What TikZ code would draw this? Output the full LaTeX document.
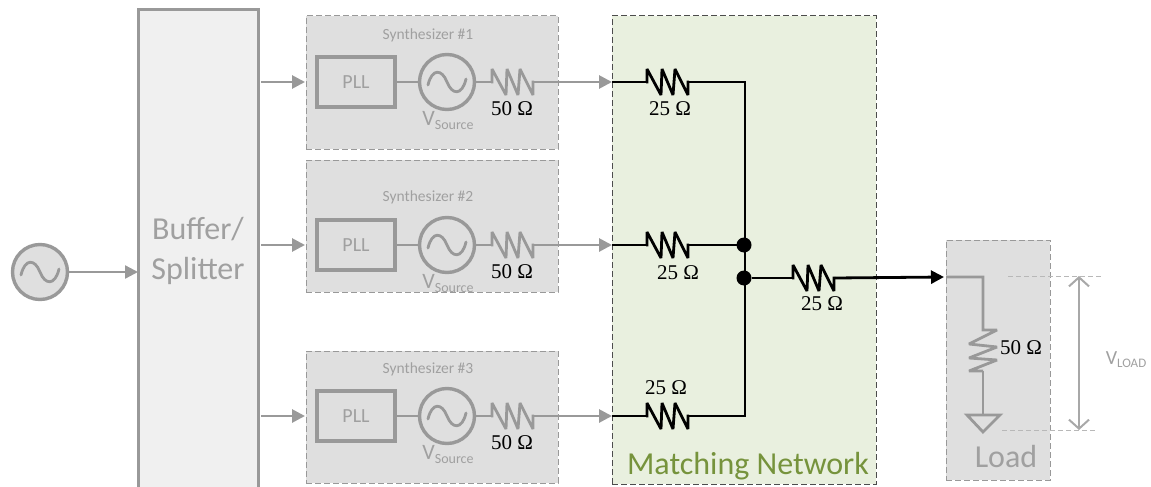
\documentclass[tikz,border=0pt]{standalone}
\usepackage{fontspec}
\setmainfont{Carlito}
\newfontfamily\serifohm{Liberation Serif}
\usetikzlibrary{arrows.meta}
\definecolor{wire}{HTML}{999999}
\definecolor{txtg}{HTML}{A0A0A0}
\definecolor{blockg}{HTML}{DFDFDF}
\definecolor{matchg}{HTML}{E9F0DF}
\definecolor{matcht}{HTML}{76933C}
\newcommand{\fsz}[1]{\fontsize{#1}{#1}\selectfont}
\newcommand{\ohm}[1]{{\serifohm\fsz{21}#1 Ω}}
\tikzset{
  x=1pt,y=-1pt,
  blk/.style={anchor=north west,inner sep=0,outer sep=0,draw=wire,fill=blockg,line width=1pt,dash pattern=on 6pt off 3pt},
  gw/.style={color=wire,line width=2.8pt},
  bw/.style={color=black,line width=2.8pt},
  arr/.style={-{Triangle[length=13pt,width=13pt]}},
  srcc/.style={circle,draw=wire,fill=blockg,line width=3.4pt,minimum size=55pt,inner sep=0,outer sep=0},
  pllb/.style={draw=wire,line width=3.4pt,minimum width=78pt,minimum height=50pt,inner sep=0,outer sep=0,text=txtg,font=\fsz{20}},
  lbl/.style={inner sep=0,outer sep=0},
  dotn/.style={circle,fill=black,minimum size=15pt,inner sep=0,outer sep=0},
  guide/.style={color=wire!70,line width=1pt,dash pattern=on 5pt off 3pt},
  pics/reszig/.style={code={
    \coordinate (-in) at (0,0);
    \coordinate (-out) at (42,0);
    \draw[line join=miter,miter limit=3,line cap=butt] (-1,0) -- (0,0) -- (0,-13) -- (14,13) -- (15,-13) -- (26,13) -- (28,-13) -- (41,13) -- (41,0) -- (42,0);
  }},
  pics/sinewave/.style={code={
    \draw[line cap=round] (-19,3) .. controls (-15,-14) and (-5,-13) .. (0,0) .. controls (5,13) and (15,14) .. (19,-3);
  }},
}
\begin{document}
\begin{tikzpicture}
\useasboundingbox (0,0) rectangle (1151,487);
\clip (0,0) rectangle (1151,487);
% Buffer / splitter
\node[anchor=north west,inner sep=0,outer sep=0,draw=wire,fill=black!6,line width=3pt,minimum width=120pt,minimum height=500pt] (buf) at (138,10) {};
\node[lbl,text=txtg,font=\fsz{32},align=center] (buftxt) at (198,251) {Buffer/\\[8pt]Splitter};
% Input source
\node[srcc] (insrc) at (40,272) {};
\pic[gw] (insine) at (40,272) {sinewave};
\coordinate (bufin) at (138,272);
\draw[gw,line width=2.4pt,arr] (insrc) -- (bufin);
% Matching network
\node[blk,draw=black!70,fill=matchg,minimum width=264pt,minimum height=468pt] (match) at (612,16) {};
\node[lbl,text=matcht,font=\fsz{32}] (matchtxt) at (748,466) {Matching Network};
% Synthesizers
\foreach \i/\btop/\bh/\row/\lab/\rlab/\rly in {1/16/133/82/35/670/109,2/160/132/245/197/678/273,3/351/132/416/369/666/388}{
  \node[blk,minimum width=252pt,minimum height=\bh pt] (syn\i) at (306,\btop) {};
  \node[lbl,text=txtg,font=\fsz{15.5}] (syn\i t) at (428,\lab) {Synthesizer \#\i};
  \node[pllb] (pll\i) at (356,\row) {PLL};
  \node[srcc,fill=none] (src\i) at (447,\row) {};
  \pic[gw] (sine\i) at (447,\row) {sinewave};
  \pic[gw] (rs\i) at (492,\row) {reszig};
  \draw[gw] (pll\i) -- (src\i);
  \draw[gw] (src\i) -- (rs\i-in);
  \node[lbl,text=txtg] (vs\i) at (448,\row+38) {\fsz{22}V\raisebox{-4pt}{\fsz{14}Source}};
  \node[lbl] (r\i l) at (512,\row+27) {\ohm{50}};
  \coordinate (split\i) at (261,\row);
  \coordinate (syn\i in) at (305,\row);
  \draw[gw,arr] (split\i) -- (syn\i in);
  \coordinate (mat\i) at (612,\row);
  \draw[bw] (mat\i) -- ++(35,0) coordinate (mr\i);
  \pic[bw] (mres\i) at (647,\row) {reszig};
  \draw[gw,arr] (rs\i-out) -- (mat\i);
  \node[lbl] (m\i l) at (\rlab,\rly) {\ohm{25}};
}
% Bus
\coordinate (bust) at (745,82);
\coordinate (busb) at (745,416);
\draw[bw,line cap=rect] (mres1-out) -- (bust) -- (busb) -- (mres3-out);
\node[dotn] (dot1) at (744,245) {};
\node[dotn] (dot2) at (744,278) {};
\draw[bw] (mres2-out) -- (dot1);
\pic[bw] (rout) at (793,278) {reszig};
\draw[bw] (dot2) -- (rout-in);
\node[lbl] (routl) at (822,304) {\ohm{25}};
% Load
\node[blk,minimum width=104pt,minimum height=240pt] (load) at (946,240) {};
\node[lbl,text=txtg,font=\fsz{32}] (loadtxt) at (1006,457) {Load};
\coordinate (loadin) at (944,277);
\coordinate (lstart) at (946,277);
\coordinate (lcorner) at (983,277);
\draw[bw,arr] (rout-out) -- (loadin);
\coordinate (rlt) at (983,330);
\coordinate (rlb) at (983,371);
\draw[gw,line join=miter,miter limit=3] (lstart) -- (lcorner) -- (rlt) -- (997,330) -- (969,344) -- (997,347) -- (969,358) -- (997,360) -- (969,371) -- (rlb);
\coordinate (gnd) at (983,415);
\draw[gw] (rlb) -- (gnd);
\draw[gw,line join=miter] (967,415) -- (1000,415) -- (983,432) -- cycle;
\node[lbl] (loadr) at (1021,348) {\ohm{50}};
% V load
\coordinate (g1a) at (1008,276);
\coordinate (g1b) at (1102,276);
\coordinate (g2a) at (1002,430);
\coordinate (g2b) at (1095,430);
\draw[guide] (g1a) -- (g1b);
\draw[guide] (g2a) -- (g2b);
\coordinate (vt) at (1079,276);
\coordinate (vb) at (1079,430);
\draw[color=wire!85,line width=2pt,{Straight Barb[length=9pt,width=20pt]}-{Straight Barb[length=9pt,width=20pt]}] (vt) -- (vb);
\node[lbl,text=txtg] (vload) at (1126,360) {\fsz{20}V\raisebox{-3pt}{\fsz{13}LOAD}};
\end{tikzpicture}
\end{document}
